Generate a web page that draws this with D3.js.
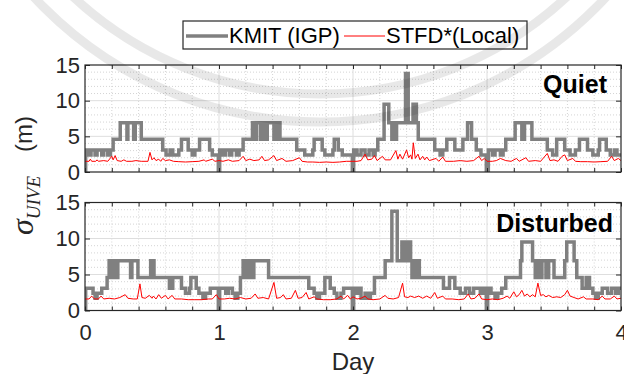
<!DOCTYPE html>
<html>
<head>
<meta charset="utf-8">
<script src="https://cdn.jsdelivr.net/npm/d3@7"></script>
<style>
  body { margin: 0; background: #fff; }
  svg { display: block; font-family: "Liberation Sans", Arial, sans-serif; }
  .axis path { display: none; }
  .axis line { stroke: #262626; }
  .axis text { fill: #262626; font-size: 22px; font-family: "Liberation Sans", Arial, sans-serif; }
</style>
</head>
<body>
<div id="chart"></div>
<script>
// step series for KMIT (IGP): [day, value held until next day]
var kmitQuiet = [
  [0,0],[0.005,3.1],[0.03,2.4],[0.045,3.1],[0.075,2.4],[0.09,3.1],[0.125,2.4],[0.14,3.1],[0.17,2.4],[0.19,3.1],
  [0.21,4.6],[0.263,6.9],[0.313,4.6],[0.32,6.9],[0.363,4.6],[0.375,6.9],[0.42,4.6],[0.58,3.1],[0.605,2.4],[0.635,3.1],
  [0.655,2.4],[0.7,3.1],[0.72,4.6],[0.77,3.1],[0.8,2.4],[0.82,3.1],[0.855,4.6],[0.93,3.1],[0.95,2.4],[0.995,0],
  [1.005,3.1],[1.03,2.4],[1.05,3.1],[1.08,2.4],[1.095,3.1],[1.13,2.4],[1.15,3.1],[1.18,4.6],[1.25,6.9],[1.27,4.6],
  [1.28,6.9],[1.31,4.6],[1.325,6.9],[1.35,4.6],[1.36,6.9],[1.41,4.6],[1.43,6.9],[1.455,4.6],[1.58,3.1],[1.64,2.4],
  [1.7,3.1],[1.71,4.6],[1.77,3.1],[1.79,2.4],[1.85,3.1],[1.86,4.6],[1.89,3.1],[1.92,2.4],[1.995,0],
  [2.005,3.1],[2.03,2.4],[2.06,3.1],[2.09,2.4],[2.12,3.1],[2.15,2.4],[2.165,3.1],[2.185,4.6],[2.232,9.5],[2.267,6.9],
  [2.29,4.6],[2.3,6.9],[2.31,4.6],[2.325,6.9],[2.392,13.8],[2.412,6.9],[2.448,9.5],[2.473,6.9],[2.487,4.6],[2.61,3.1],
  [2.65,2.4],[2.67,3.1],[2.7,4.6],[2.76,3.1],[2.82,4.6],[2.855,6.9],[2.885,4.6],[2.92,3.1],[2.955,2.4],[2.995,0],
  [3.01,3.1],[3.04,2.4],[3.06,3.1],[3.1,2.4],[3.12,3.1],[3.14,4.6],[3.21,6.9],[3.26,4.6],[3.28,6.9],[3.335,4.6],
  [3.45,3.1],[3.49,2.4],[3.52,4.6],[3.58,3.1],[3.62,2.4],[3.66,3.1],[3.69,4.6],[3.75,3.1],[3.79,2.4],[3.83,3.1],
  [3.84,4.6],[3.89,3.1],[3.92,2.4],[3.95,3.1],[3.97,2.4],[4,2.4]
];

var kmitDisturbed = [
  [0,0],[0.005,3.1],[0.06,2.4],[0.075,1.7],[0.09,2.4],[0.125,3.1],[0.165,4.6],[0.18,6.9],[0.195,4.6],[0.2,6.9],
  [0.215,4.6],[0.22,6.9],[0.24,4.6],[0.245,6.9],[0.34,4.6],[0.35,6.9],[0.395,4.6],[0.49,6.9],[0.515,4.6],[0.63,3.1],
  [0.655,4.6],[0.72,3.1],[0.75,2.4],[0.78,3.1],[0.79,4.6],[0.83,3.1],[0.85,2.4],[0.88,1.7],[0.9,2.4],[0.935,3.1],[0.995,0],
  [1.005,3.1],[1.05,2.4],[1.07,3.1],[1.1,2.4],[1.12,1.7],[1.14,2.4],[1.16,4.6],[1.18,6.9],[1.19,4.6],[1.2,6.9],
  [1.21,4.6],[1.22,6.9],[1.235,4.6],[1.24,6.9],[1.25,4.6],[1.26,6.9],[1.37,4.6],[1.67,3.1],[1.71,2.4],[1.73,1.7],
  [1.75,2.4],[1.79,4.6],[1.83,3.1],[1.86,2.4],[1.88,1.7],[1.91,2.4],[1.93,3.1],[1.995,0],
  [2.005,3.1],[2.03,2.4],[2.05,3.1],[2.06,1.7],[2.09,2.4],[2.11,1.7],[2.13,2.4],[2.16,4.6],[2.24,6.9],[2.29,13.8],
  [2.33,6.9],[2.365,9.5],[2.385,6.9],[2.405,9.5],[2.43,6.9],[2.44,4.6],[2.45,6.9],[2.465,4.6],[2.47,6.9],[2.495,4.6],
  [2.675,3.1],[2.72,4.6],[2.76,3.1],[2.8,2.4],[2.84,3.1],[2.87,2.4],[2.9,3.1],[2.95,2.4],[2.97,3.1],[2.995,0],
  [3.005,3.1],[3.03,2.4],[3.06,1.7],[3.08,2.4],[3.11,3.1],[3.14,4.6],[3.25,6.9],[3.26,9.5],[3.34,6.9],[3.36,4.6],
  [3.37,6.9],[3.395,4.6],[3.41,6.9],[3.44,4.6],[3.46,6.9],[3.5,4.6],[3.58,6.9],[3.595,9.5],[3.65,6.9],[3.67,4.6],
  [3.71,3.1],[3.74,4.6],[3.765,3.1],[3.79,2.4],[3.81,1.7],[3.83,2.4],[3.86,3.1],[3.9,2.4],[3.93,3.1],[3.96,2.4],
  [3.98,3.1],[4,3.1]
];

// STFD*(Local): [day, value]
var redQuiet = [
  [0,1.5],[0.03,1.5],[0.04,1.8],[0.05,1.5],[0.08,1.5],[0.09,1.7],[0.1,1.5],[0.14,1.6],[0.17,1.5],[0.2,2.2],
  [0.21,1.7],[0.225,2.3],[0.24,1.6],[0.27,1.5],[0.29,1.7],[0.31,1.5],[0.35,1.5],[0.38,1.6],[0.42,1.5],[0.47,1.5],
  [0.485,2.75],[0.5,1.7],[0.515,2.0],[0.53,1.6],[0.55,1.8],[0.565,1.5],[0.58,1.9],[0.6,1.6],[0.63,1.7],[0.66,1.5],
  [0.7,1.45],[0.75,1.4],[0.8,1.45],[0.85,1.5],[0.89,1.7],[0.9,1.5],[0.95,1.8],[0.97,1.5],[1.0,1.6],
  [1.03,1.5],[1.07,1.7],[1.1,1.5],[1.15,1.6],[1.18,2.2],[1.2,1.6],[1.23,1.8],[1.26,1.6],[1.3,1.7],[1.32,2.2],
  [1.34,1.6],[1.37,1.7],[1.41,2.3],[1.43,1.6],[1.47,1.9],[1.5,1.5],[1.55,1.6],[1.6,2.0],[1.62,1.5],[1.66,1.4],
  [1.7,1.4],[1.75,1.35],[1.8,1.4],[1.85,1.35],[1.9,1.4],[1.95,1.5],[2.0,1.5],
  [2.03,1.5],[2.06,1.6],[2.09,2.5],[2.11,1.7],[2.14,1.8],[2.16,2.3],[2.18,1.6],[2.22,2.2],[2.24,1.7],[2.28,1.7],
  [2.32,3.0],[2.335,1.8],[2.35,2.5],[2.37,1.8],[2.4,3.1],[2.415,2.0],[2.43,2.4],[2.44,1.8],[2.45,4.1],[2.465,1.9],
  [2.485,2.5],[2.5,1.7],[2.52,2.2],[2.535,1.7],[2.55,2.1],[2.57,1.6],[2.62,1.9],[2.64,1.5],[2.67,2.1],[2.69,1.5],
  [2.75,1.5],[2.8,1.6],[2.85,1.5],[2.9,1.6],[2.94,2.2],[2.96,1.6],[2.98,1.9],[3.0,1.5],
  [3.04,1.5],[3.07,1.6],[3.1,1.9],[3.14,1.6],[3.18,1.5],[3.22,1.9],[3.24,1.5],[3.29,2.0],[3.31,1.5],[3.36,1.6],
  [3.4,1.5],[3.45,2.6],[3.47,1.6],[3.5,1.7],[3.53,1.5],[3.56,2.2],[3.58,2.4],[3.6,1.6],[3.64,1.9],[3.66,1.5],
  [3.7,1.45],[3.75,1.45],[3.8,1.4],[3.85,1.45],[3.9,1.5],[3.93,2.2],[3.95,1.6],[3.98,1.9],[4.0,1.6]
];

var redDisturbed = [
  [0,1.6],[0.03,1.6],[0.05,2.0],[0.07,1.6],[0.1,1.6],[0.12,2.0],[0.14,1.6],[0.18,1.7],[0.22,1.6],[0.26,1.8],
  [0.3,2.2],[0.32,1.7],[0.36,1.6],[0.39,1.6],[0.41,3.7],[0.425,1.8],[0.45,1.7],[0.48,2.1],[0.5,1.7],[0.51,2.0],
  [0.53,1.6],[0.55,2.2],[0.57,1.7],[0.6,2.1],[0.62,1.6],[0.65,2.1],[0.67,1.6],[0.72,1.6],[0.77,1.5],[0.82,1.5],
  [0.87,1.5],[0.92,1.6],[0.95,1.6],[0.98,2.2],[1.0,1.6],
  [1.04,1.6],[1.08,1.7],[1.12,1.6],[1.16,1.8],[1.2,1.6],[1.24,1.7],[1.27,2.3],[1.29,1.7],[1.33,1.8],[1.37,1.6],
  [1.41,3.9],[1.43,1.7],[1.46,1.8],[1.48,2.2],[1.5,1.6],[1.54,1.7],[1.57,2.8],[1.59,1.7],[1.62,1.8],[1.65,2.5],
  [1.67,1.6],[1.71,1.9],[1.73,1.6],[1.78,1.5],[1.83,1.5],[1.88,1.6],[1.91,2.0],[1.93,1.6],[1.96,2.1],[1.98,1.6],[2.0,1.9],
  [2.03,1.6],[2.06,1.7],[2.09,2.0],[2.11,1.6],[2.15,1.5],[2.2,1.6],[2.24,2.1],[2.26,1.7],[2.3,1.6],[2.34,1.8],
  [2.37,3.8],[2.385,1.9],[2.41,1.8],[2.43,2.0],[2.46,1.8],[2.49,2.0],[2.52,1.7],[2.55,2.0],[2.58,1.7],[2.61,2.5],
  [2.63,1.7],[2.67,2.0],[2.69,1.6],[2.74,1.6],[2.79,1.5],[2.83,1.6],[2.86,2.3],[2.88,1.6],[2.91,1.7],[2.94,2.3],
  [2.96,1.6],[3.0,1.5],
  [3.04,1.6],[3.08,1.5],[3.12,1.7],[3.15,2.0],[3.17,1.7],[3.2,2.6],[3.22,1.9],[3.24,2.2],[3.26,2.8],[3.28,2.0],
  [3.3,2.3],[3.32,1.9],[3.34,2.2],[3.36,1.9],[3.38,3.8],[3.4,2.1],[3.42,2.2],[3.44,1.9],[3.46,2.1],[3.49,1.8],
  [3.52,1.9],[3.55,1.8],[3.58,2.2],[3.6,2.8],[3.62,2.0],[3.65,1.8],[3.68,1.6],[3.72,1.9],[3.74,1.6],[3.79,1.6],
  [3.83,1.5],[3.86,2.0],[3.88,1.6],[3.92,1.6],[3.95,2.0],[3.97,1.6],[4.0,1.7]
];

var dayTicks = [0, 1, 2, 3, 4];
var yTicks = [0, 5, 10, 15];
var seriesNames = ["KMIT (IGP)", "STFD*(Local)"];

var width = 624, height = 374;
var left = 85, right = 621;

var svg = d3.select("#chart")
  .append("svg")
    .attr("width", width)
    .attr("height", height);

var x = d3.scaleLinear().domain([0, 4]).range([left, right]);

var minorX = d3.range(0, 21).map(function(i) { return i * 0.2; });
var minorY = d3.range(0, 16);

var stepLine = d3.line()
    .curve(d3.curveStepAfter)
    .x(function(d) { return x(d[0]); });

var plainLine = d3.line()
    .x(function(d) { return x(d[0]); });

function drawPanel(id, y, kmit, red, label, lx, ly, showX) {
  var top = y(15), bottom = y(0);
  var g = svg.append("g").attr("class", "panel-" + id);

  g.append("clipPath").attr("id", "clip-" + id)
    .append("rect")
      .attr("x", left).attr("y", top)
      .attr("width", right - left).attr("height", bottom - top);

  // minor grid (dotted)
  g.append("g").selectAll("line")
      .data(minorX.filter(function(d) { return Math.abs(d - Math.round(d)) > 1e-6; }))
      .enter().append("line")
      .attr("x1", function(d) { return x(d); }).attr("x2", function(d) { return x(d); })
      .attr("y1", top).attr("y2", bottom)
      .attr("stroke", "#d4d4d4").attr("stroke-dasharray", "1,2");
  g.append("g").selectAll("line")
      .data(minorY.filter(function(d) { return d % 5 !== 0; }))
      .enter().append("line")
      .attr("x1", left).attr("x2", right)
      .attr("y1", function(d) { return y(d); }).attr("y2", function(d) { return y(d); })
      .attr("stroke", "#d4d4d4").attr("stroke-dasharray", "1,2");

  // major grid
  g.append("g").selectAll("line")
      .data([1, 2, 3])
      .enter().append("line")
      .attr("x1", function(d) { return x(d); }).attr("x2", function(d) { return x(d); })
      .attr("y1", top).attr("y2", bottom)
      .attr("stroke", "#dedede");
  g.append("g").selectAll("line")
      .data([5, 10])
      .enter().append("line")
      .attr("x1", left).attr("x2", right)
      .attr("y1", function(d) { return y(d); }).attr("y2", function(d) { return y(d); })
      .attr("stroke", "#dedede");

  var lines = g.append("g").attr("clip-path", "url(#clip-" + id + ")");

  lines.append("path")
      .datum(kmit)
      .attr("fill", "none")
      .attr("stroke", "#808080")
      .attr("stroke-width", 3.5)
      .attr("d", stepLine.y(function(d) { return y(d[1]); }));

  lines.append("path")
      .datum(red)
      .attr("fill", "none")
      .attr("stroke", "#ff0000")
      .attr("stroke-width", 1)
      .attr("stroke-linejoin", "round")
      .attr("d", plainLine.y(function(d) { return y(d[1]); }));

  // axes, ticks pointing in
  g.append("g").attr("class", "axis")
      .attr("transform", "translate(" + left + ",0)")
      .call(d3.axisLeft(y).tickValues(yTicks).tickSize(-5).tickPadding(5));
  g.append("g").attr("class", "axis")
      .attr("transform", "translate(" + right + ",0)")
      .call(d3.axisRight(y).tickValues(yTicks).tickSize(-5).tickFormat(""));
  g.append("g").attr("class", "axis")
      .attr("transform", "translate(0," + top + ")")
      .call(d3.axisTop(x).tickValues(minorX).tickSize(-4).tickFormat(""));
  g.append("g").attr("class", "axis")
      .attr("transform", "translate(0," + bottom + ")")
      .call(d3.axisBottom(x).tickValues(minorX).tickSize(-4).tickPadding(14)
        .tickFormat(function(d) {
          var r = Math.round(d);
          return showX && Math.abs(d - r) < 1e-6 && dayTicks.indexOf(r) >= 0 ? r : "";
        }));

  g.append("rect")
      .attr("x", left).attr("y", top)
      .attr("width", right - left).attr("height", bottom - top)
      .attr("fill", "none").attr("stroke", "#262626").attr("stroke-width", 1.2);

  g.append("text")
      .attr("x", lx).attr("y", ly)
      .attr("text-anchor", "end")
      .attr("font-weight", "bold")
      .attr("font-size", 25)
      .attr("fill", "#000")
      .text(label);
}

var yTop = d3.scaleLinear().domain([0, 15]).range([172, 65]);
var yBot = d3.scaleLinear().domain([0, 15]).range([310.5, 202.5]);

drawPanel("q", yTop, kmitQuiet, redQuiet, "Quiet", 607, 93, false);
drawPanel("d", yBot, kmitDisturbed, redDisturbed, "Disturbed", 613, 232, true);

// x label
svg.append("text")
    .attr("x", (left + right) / 2)
    .attr("y", 370)
    .attr("text-anchor", "middle")
    .attr("font-size", 24)
    .attr("fill", "#262626")
    .text("Day");

// y label, reads bottom to top
var yl = svg.append("text")
    .attr("transform", "translate(33,235) rotate(-90)")
    .attr("text-anchor", "start")
    .attr("fill", "#262626");
yl.append("tspan")
    .attr("font-family", "'Liberation Serif', 'Times New Roman', serif")
    .attr("font-style", "italic")
    .attr("font-size", 32)
    .text("σ");
yl.append("tspan")
    .attr("font-family", "'Liberation Serif', 'Times New Roman', serif")
    .attr("font-style", "italic")
    .attr("font-size", 19)
    .attr("dy", 7)
    .text("UIVE");
yl.append("tspan")
    .attr("font-size", 24)
    .attr("dy", -8)
    .attr("dx", 24)
    .text("(m)");

// legend
var legend = svg.append("g").attr("class", "legend");
legend.append("rect")
    .attr("x", 183).attr("y", 21)
    .attr("width", 344).attr("height", 28)
    .attr("fill", "#fff").attr("stroke", "#262626").attr("stroke-width", 1.2);
var legendItems = [
  {name: seriesNames[0], color: "#808080", w: 3.5, x0: 186, x1: 228},
  {name: seriesNames[1], color: "#ff0000", w: 1, x0: 344, x1: 385}
];
legend.selectAll("line")
    .data(legendItems)
    .enter().append("line")
    .attr("x1", function(d) { return d.x0; })
    .attr("x2", function(d) { return d.x1; })
    .attr("y1", 36).attr("y2", 36)
    .attr("stroke", function(d) { return d.color; })
    .attr("stroke-width", function(d) { return d.w; });
legend.selectAll("text")
    .data(legendItems)
    .enter().append("text")
    .attr("x", function(d) { return d.x1 + 1; })
    .attr("y", 43)
    .attr("font-size", 22)
    .attr("fill", "#000")
    .text(function(d) { return d.name; });

// faint watermark rings
var rings = [362, 390];
svg.append("g")
    .attr("pointer-events", "none")
  .selectAll("circle")
    .data(rings)
    .enter().append("circle")
    .attr("cx", 320).attr("cy", -268)
    .attr("r", function(d) { return d; })
    .attr("fill", "none")
    .attr("stroke", "#000")
    .attr("stroke-opacity", 0.09)
    .attr("stroke-width", 9);
</script>
</body>
</html>
